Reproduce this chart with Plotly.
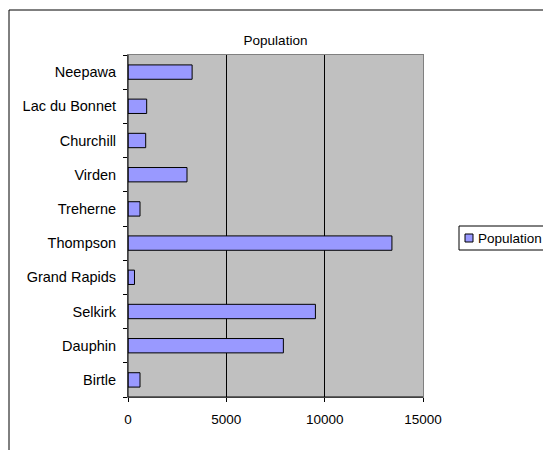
import plotly.graph_objects as go

towns = ["Birtle", "Dauphin", "Selkirk", "Grand Rapids", "Thompson",
         "Treherne", "Virden", "Churchill", "Lac du Bonnet", "Neepawa"]
population = [610, 7900, 9530, 330, 13420, 610, 3000, 900, 950, 3260]
x_ticks = [0, 5000, 10000, 15000]
x_tick_labels = ["0", "5000", "10000", "15000"]
series_name = "Population"

fig = go.Figure()
fig.add_trace(go.Bar(
    x=population, y=towns, orientation="h", name=series_name,
    marker=dict(color="#9999FF", line=dict(color="black", width=1)),
    width=0.42, showlegend=False,
))

# page is offset by the 8px body margin
OFF = 8
L, T = 128 - OFF, 55 - OFF
pw, ph = 295, 342
R = 551 - L - pw
B = 450 - T - ph


def px(X):
    return (X - 128) / pw


def py(Y):
    return (397 - Y) / ph


fig.update_layout(
    width=551, height=450,
    margin=dict(l=L, r=R, t=T, b=B, autoexpand=False),
    paper_bgcolor="white", plot_bgcolor="#C0C0C0",
    font=dict(family="Liberation Sans, Arial, sans-serif", size=13.5, color="black"),
    title=dict(text="Population", x=0.5, xref="paper", y=1 - (40 - OFF) / 450,
               yanchor="middle", font=dict(size=13.5)),
    showlegend=False,
    xaxis=dict(range=[0, 15000], tickvals=x_ticks, ticktext=x_tick_labels,
               showgrid=True, gridcolor="black", gridwidth=1,
               ticks="outside", ticklen=4, tickcolor="black",
               showline=True, linecolor="#808080", mirror=True,
               zeroline=False, ticklabelstandoff=6),
    yaxis=dict(type="category", tickson="boundaries", ticks="outside", ticklen=4,
               tickcolor="black", showline=True, linecolor="#808080", mirror=True,
               showgrid=False, ticklabelstandoff=8, tickfont=dict(size=14.5)),
    shapes=[
        dict(type="rect", xref="paper", yref="paper",
             x0=px(9), x1=1.6, y0=-0.5, y1=py(10),
             line=dict(color="black", width=1), layer="below"),
        dict(type="line", xref="paper", yref="paper", x0=0, x1=0, y0=0, y1=1,
             line=dict(color="black", width=1)),
        dict(type="line", xref="paper", yref="paper", x0=0, x1=1, y0=0, y1=0,
             line=dict(color="black", width=1)),
        # legend box and swatch
        dict(type="rect", xref="paper", yref="paper",
             x0=px(459), x1=px(556), y0=py(250), y1=py(226),
             line=dict(color="black", width=1), fillcolor="white"),
        dict(type="rect", xref="paper", yref="paper",
             x0=px(465), x1=px(473), y0=py(242), y1=py(234),
             line=dict(color="black", width=1), fillcolor="#9999FF"),
    ],
    annotations=[
        dict(text=series_name, xref="paper", yref="paper", x=px(476), y=py(238),
             xanchor="left", yanchor="middle", showarrow=False,
             font=dict(size=13.5)),
    ],
)

fig.write_html("out.html")
